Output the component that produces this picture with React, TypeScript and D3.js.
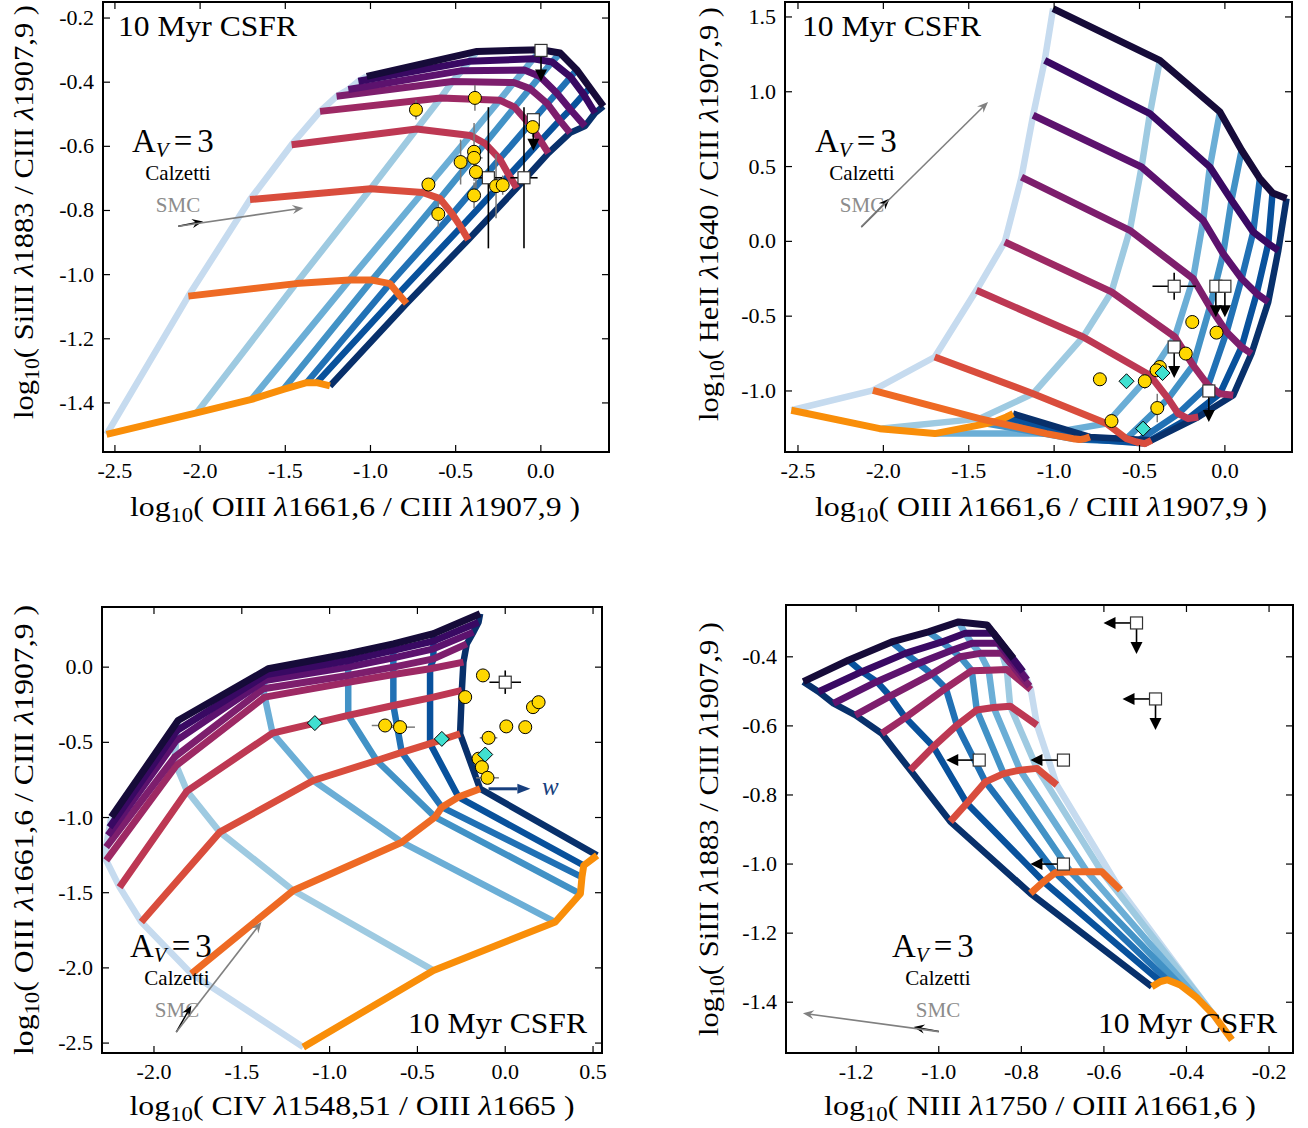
import React from "react";
import * as d3 from "d3";

type Pt = [number, number];

const FONT = "'Liberation Serif', 'Times New Roman', serif";

// ---------------- model grids ----------------
// rows: metallicity tracks (highest Z first -> lowest Z last)
// columns: ionisation-parameter tracks (lowest U first -> highest U last)
const gridSiIIIvsOIII: Pt[][] = [
  [[-1.022, -0.382], [-0.375, -0.304], [0.0, -0.299], [0.113, -0.309], [0.21, -0.361], [0.289, -0.418], [0.367, -0.475]],
  [[-1.071, -0.397], [-0.42, -0.335], [-0.044, -0.327], [0.066, -0.337], [0.175, -0.384], [0.251, -0.438], [0.318, -0.496]],
  [[-1.13, -0.423], [-0.463, -0.364], [-0.097, -0.362], [-0.005, -0.382], [0.093, -0.434], [0.173, -0.485], [0.259, -0.537]],
  [[-1.199, -0.444], [-0.52, -0.398], [-0.159, -0.401], [-0.064, -0.42], [0.038, -0.467], [0.111, -0.519], [0.171, -0.558]],
  [[-1.296, -0.491], [-0.588, -0.449], [-0.242, -0.456], [-0.154, -0.478], [-0.066, -0.531], [-0.001, -0.583], [0.044, -0.621]],
  [[-1.463, -0.595], [-0.729, -0.546], [-0.414, -0.566], [-0.328, -0.591], [-0.242, -0.639], [-0.187, -0.69], [-0.142, -0.73]],
  [[-1.707, -0.766], [-0.999, -0.732], [-0.694, -0.744], [-0.592, -0.763], [-0.52, -0.811], [-0.469, -0.852], [-0.426, -0.891]],
  [[-2.069, -1.067], [-1.437, -1.028], [-1.124, -1.017], [-0.991, -1.017], [-0.886, -1.028], [-0.837, -1.06], [-0.788, -1.09]],
  [[-2.549, -1.498], [-2.021, -1.431], [-1.698, -1.389], [-1.512, -1.358], [-1.375, -1.337], [-1.316, -1.337], [-1.238, -1.347]],
];

const gridHeIIvsOIII: Pt[][] = [
  [[-1.006, 1.556], [-0.381, 1.21], [-0.029, 0.865], [0.098, 0.609], [0.205, 0.419], [0.279, 0.324], [0.361, 0.286]],
  [[-1.055, 1.21], [-0.439, 0.854], [-0.088, 0.497], [0.039, 0.275], [0.166, 0.063], [0.254, -0.015], [0.313, -0.06]],
  [[-1.123, 0.843], [-0.488, 0.497], [-0.127, 0.141], [-0.01, -0.082], [0.098, -0.249], [0.186, -0.349], [0.254, -0.405]],
  [[-1.191, 0.43], [-0.557, 0.074], [-0.186, -0.249], [-0.088, -0.439], [0.01, -0.606], [0.098, -0.706], [0.156, -0.75]],
  [[-1.289, -0.004], [-0.664, -0.338], [-0.293, -0.639], [-0.186, -0.828], [-0.098, -0.962], [-0.029, -1.018], [0.049, -1.029]],
  [[-1.455, -0.327], [-0.83, -0.639], [-0.439, -0.895], [-0.332, -1.051], [-0.273, -1.152], [-0.215, -1.185], [-0.156, -1.174]],
  [[-1.699, -0.773], [-1.123, -1.018], [-0.693, -1.218], [-0.576, -1.319], [-0.518, -1.341], [-0.469, -1.352], [-0.43, -1.33]],
  [[-2.061, -0.996], [-1.436, -1.185], [-1.045, -1.285], [-0.889, -1.319], [-0.85, -1.325], [-0.82, -1.319], [-0.791, -1.307]],
  [[-2.539, -1.129], [-2.021, -1.252], [-1.699, -1.285], [-1.396, -1.218], [-1.338, -1.201], [-1.279, -1.174], [-1.24, -1.152]],
];

const gridOIIIvsCIV: Pt[][] = [
  [[-2.243, -0.997], [-1.863, -0.355], [-1.35, -0.011], [-0.894, 0.089], [-0.637, 0.155], [-0.409, 0.222], [-0.143, 0.355]],
  [[-2.253, -1.064], [-1.869, -0.421], [-1.359, -0.049], [-0.894, 0.044], [-0.637, 0.111], [-0.409, 0.173], [-0.152, 0.299]],
  [[-2.262, -1.119], [-1.873, -0.488], [-1.369, -0.089], [-0.894, 0.0], [-0.637, 0.062], [-0.409, 0.122], [-0.181, 0.233]],
  [[-2.272, -1.197], [-1.882, -0.598], [-1.378, -0.144], [-0.894, -0.055], [-0.637, 0.0], [-0.409, 0.055], [-0.219, 0.155]],
  [[-2.272, -1.285], [-1.873, -0.654], [-1.369, -0.199], [-0.894, -0.1], [-0.637, -0.049], [-0.428, -0.011], [-0.238, 0.033]],
  [[-2.196, -1.463], [-1.812, -0.824], [-1.325, -0.439], [-0.894, -0.321], [-0.637, -0.255], [-0.428, -0.204], [-0.247, -0.155]],
  [[-2.072, -1.695], [-1.625, -1.097], [-1.093, -0.754], [-0.732, -0.621], [-0.589, -0.567], [-0.428, -0.508], [-0.257, -0.443]],
  [[-1.787, -2.039], [-1.207, -1.485], [-0.589, -1.164], [-0.399, -0.997], [-0.361, -0.931], [-0.266, -0.864], [-0.143, -0.809]],
  [[-1.15, -2.527], [-0.409, -2.017], [0.285, -1.695], [0.428, -1.507], [0.437, -1.396], [0.447, -1.319], [0.523, -1.252]],
];

// columns of this grid run from highest U to lowest U
const gridSiIIIvsNIII: Pt[][] = [
  [[-1.328, -0.472], [-1.219, -0.41], [-1.114, -0.357], [-1.025, -0.328], [-0.952, -0.299], [-0.883, -0.308], [-0.819, -0.405]],
  [[-1.291, -0.501], [-1.186, -0.443], [-1.081, -0.39], [-0.992, -0.357], [-0.936, -0.332], [-0.867, -0.332], [-0.796, -0.443]],
  [[-1.255, -0.535], [-1.15, -0.472], [-1.049, -0.419], [-0.968, -0.381], [-0.92, -0.361], [-0.855, -0.361], [-0.786, -0.467]],
  [[-1.202, -0.569], [-1.118, -0.514], [-1.017, -0.45], [-0.948, -0.4], [-0.9, -0.39], [-0.847, -0.39], [-0.78, -0.485]],
  [[-1.138, -0.622], [-1.081, -0.576], [-0.983, -0.491], [-0.92, -0.44], [-0.879, -0.439], [-0.835, -0.437], [-0.777, -0.495]],
  [[-1.069, -0.728], [-1.013, -0.66], [-0.956, -0.598], [-0.908, -0.554], [-0.867, -0.547], [-0.827, -0.543], [-0.762, -0.598]],
  [[-0.972, -0.877], [-0.932, -0.824], [-0.887, -0.762], [-0.843, -0.738], [-0.803, -0.728], [-0.762, -0.723], [-0.714, -0.771]],
  [[-0.778, -1.085], [-0.746, -1.051], [-0.718, -1.025], [-0.681, -1.022], [-0.641, -1.022], [-0.605, -1.022], [-0.56, -1.075]],
  [[-0.484, -1.355], [-0.463, -1.34], [-0.447, -1.335], [-0.415, -1.35], [-0.374, -1.388], [-0.334, -1.437], [-0.29, -1.509]],
];

// ---------------- observations ----------------
// circles / diamonds: [x, y, xerr, yerr]
const circlesP1: number[][] = [
  [-0.733, -0.486, 0, 0.03], [-0.387, -0.449, 0, 0.04], [-0.471, -0.649, 0, 0.07],
  [-0.392, -0.617, 0, 0.09], [-0.392, -0.636, 0.05, 0], [-0.381, -0.68, 0, 0.05],
  [-0.66, -0.719, 0, 0], [-0.602, -0.811, 0, 0.04], [-0.392, -0.753, 0, 0.04],
  [-0.263, -0.724, 0, 0.1], [-0.224, -0.721, 0, 0.03], [-0.048, -0.54, 0, 0.03],
];
// squares: [x, y, xerr, yerr, upper limit in y, upper limit in x]
const squaresP1: number[][] = [
  [0.001, -0.301, 0, 0, 1, 0], [-0.308, -0.698, 0.08, 0.22, 0, 0],
  [-0.099, -0.698, 0.08, 0.22, 0, 0], [-0.044, -0.517, 0, 0, 1, 0],
];

const circlesP2: number[][] = [
  [-0.191, -0.539, 0, 0], [-0.049, -0.61, 0, 0], [-0.229, -0.75, 0, 0],
  [-0.381, -0.84, 0, 0], [-0.4, -0.862, 0, 0], [-0.732, -0.922, 0, 0.03],
  [-0.469, -0.935, 0, 0.05], [-0.396, -1.114, 0, 0.095], [-0.664, -1.201, 0, 0],
];
const diamondsP2: number[][] = [[-0.576, -0.935, 0, 0], [-0.365, -0.88, 0, 0], [-0.479, -1.252, 0, 0]];
const squaresP2: number[][] = [
  [-0.297, -0.3, 0.127, 0.09, 0, 0], [-0.053, -0.3, 0, 0, 1, 0], [0.0, -0.3, 0, 0, 1, 0],
  [-0.297, -0.706, 0, 0, 1, 0], [-0.094, -1.0, 0, 0, 1, 0],
];

const circlesP3: number[][] = [
  [-0.127, -0.055, 0, 0], [-0.228, -0.199, 0, 0], [-0.684, -0.388, 0.076, 0],
  [-0.599, -0.399, 0.085, 0], [-0.095, -0.47, 0.05, 0], [0.006, -0.394, 0, 0],
  [0.114, -0.399, 0, 0], [0.158, -0.266, 0, 0], [0.19, -0.233, 0, 0],
  [-0.152, -0.609, 0, 0], [-0.133, -0.665, 0, 0], [-0.101, -0.736, 0.065, 0],
];
const diamondsP3: number[][] = [[-1.084, -0.372, 0, 0], [-0.361, -0.477, 0, 0], [-0.114, -0.581, 0, 0]];
const squaresP3: number[][] = [[0.0, -0.1, 0.09, 0.078, 0, 0]];

const squaresP4: number[][] = [
  [-0.521, -0.302, 0, 0, 1, 1], [-0.475, -0.522, 0, 0, 1, 1],
  [-0.902, -0.699, 0, 0, 0, 1], [-0.698, -0.699, 0, 0, 0, 1], [-0.698, -1.0, 0, 0, 0, 1],
];

// dust vectors (A_V = 3): [x0, y0, xCalzetti, yCalzetti, xSMC, ySMC]
const dustP1 = [-2.128, -0.849, -1.983, -0.834, -1.394, -0.792];
const dustP2 = [-2.129, 0.096, -1.963, 0.286, -1.387, 0.932];
const dustP3 = [-1.873, -2.427, -1.787, -2.25, -1.388, -1.695];
const dustP4 = [-1.0, -1.485, -1.061, -1.472, -1.329, -1.432];

// "w" direction arrow in panel 3: [xStart, xEnd, y, xText]
const wArrowP3 = [-0.095, 0.143, -0.809, 0.209];

// ---------------- ticks ----------------
const ticksOIIIoverCIII = [-2.5, -2.0, -1.5, -1.0, -0.5, 0.0];
const ticksSiIIIoverCIII = [-1.4, -1.2, -1.0, -0.8, -0.6, -0.4, -0.2];
const ticksHeIIoverCIII = [-1.0, -0.5, 0.0, 0.5, 1.0, 1.5];
const ticksCIVoverOIII = [-2.0, -1.5, -1.0, -0.5, 0.0, 0.5];
const ticksOIIIoverCIIIy = [-2.5, -2.0, -1.5, -1.0, -0.5, 0.0];
const ticksNIIIoverOIII = [-1.2, -1.0, -0.8, -0.6, -0.4, -0.2];
const ticksSiIIIoverCIII4 = [-1.4, -1.2, -1.0, -0.8, -0.6, -0.4];

// axis label parts: [numerator ion, wavelength, denominator ion, wavelength]
const labOIII_CIII = ["OIII", "1661,6", "CIII", "1907,9"];
const labSiIII_CIII = ["SiIII", "1883", "CIII", "1907,9"];
const labHeII_CIII = ["HeII", "1640", "CIII", "1907,9"];
const labCIV_OIII = ["CIV", "1548,51", "OIII", "1665"];
const labNIII_OIII = ["NIII", "1750", "OIII", "1661,6"];

type PanelCfg = {
  id: string;
  left: number; top: number; right: number; bottom: number;
  xDomain: [number, number]; yDomain: [number, number];
  xTicks: number[]; yTicks: number[];
  grid: Pt[][]; uAscending: boolean;
  circles: number[][]; squares: number[][]; diamonds: number[][];
  dust: number[];
  xLab: string[]; yLab: string[];
  xLabX: number; xLabY: number; xLabLen: number;
  yLabX: number; yLabY: number; yLabLen: number;
  csfr: { x: number; y: number; anchor: "start" | "end" };
  av: { x: number; y: number; cx: number; cy: number };
  w?: number[];
};

const panels: PanelCfg[] = [
  {
    id: "p1", left: 103, top: 2, right: 609, bottom: 452,
    xDomain: [-2.57, 0.4], yDomain: [-1.553, -0.15],
    xTicks: ticksOIIIoverCIII, yTicks: ticksSiIIIoverCIII,
    grid: gridSiIIIvsOIII, uAscending: true,
    circles: circlesP1, squares: squaresP1, diamonds: [], dust: dustP1,
    xLab: labOIII_CIII, yLab: labSiIII_CIII,
    xLabX: 355, xLabY: 516, xLabLen: 450, yLabX: 33, yLabY: 212, yLabLen: 414,
    csfr: { x: 118, y: 36, anchor: "start" },
    av: { x: 132, y: 152, cx: 178, cy: 180 },
  },
  {
    id: "p2", left: 785, top: 2, right: 1292, bottom: 452,
    xDomain: [-2.576, 0.393], yDomain: [-1.408, 1.6],
    xTicks: ticksOIIIoverCIII, yTicks: ticksHeIIoverCIII,
    grid: gridHeIIvsOIII, uAscending: true,
    circles: circlesP2, squares: squaresP2, diamonds: diamondsP2, dust: dustP2,
    xLab: labOIII_CIII, yLab: labHeII_CIII,
    xLabX: 1041, xLabY: 516, xLabLen: 452, yLabX: 718, yLabY: 214, yLabLen: 414,
    csfr: { x: 802, y: 36, anchor: "start" },
    av: { x: 815, y: 152, cx: 862, cy: 180 },
  },
  {
    id: "p3", left: 102, top: 607, right: 602, bottom: 1053,
    xDomain: [-2.296, 0.551], yDomain: [-2.566, 0.4],
    xTicks: ticksCIVoverOIII, yTicks: ticksOIIIoverCIIIy,
    grid: gridOIIIvsCIV, uAscending: true,
    circles: circlesP3, squares: squaresP3, diamonds: diamondsP3, dust: dustP3,
    xLab: labCIV_OIII, yLab: labOIII_CIII,
    xLabX: 352, xLabY: 1115, xLabLen: 445, yLabX: 33, yLabY: 830, yLabLen: 450,
    csfr: { x: 587, y: 1033, anchor: "end" },
    av: { x: 130, y: 957, cx: 177, cy: 985 },
    w: wArrowP3,
  },
  {
    id: "p4", left: 786, top: 605, right: 1293, bottom: 1053,
    xDomain: [-1.37, -0.142], yDomain: [-1.547, -0.25],
    xTicks: ticksNIIIoverOIII, yTicks: ticksSiIIIoverCIII4,
    grid: gridSiIIIvsNIII, uAscending: false,
    circles: [], squares: squaresP4, diamonds: [], dust: dustP4,
    xLab: labNIII_OIII, yLab: labSiIII_CIII,
    xLabX: 1040, xLabY: 1115, xLabLen: 432, yLabX: 718, yLabY: 829, yLabLen: 414,
    csfr: { x: 1277, y: 1033, anchor: "end" },
    av: { x: 892, y: 957, cx: 938, cy: 985 },
  },
];

const fmt = (v: number) => (Math.abs(v) < 1e-9 ? "0.0" : v.toFixed(1));

function arrowHead(x1: number, y1: number, x2: number, y2: number, len: number, half: number, notch: number) {
  const dx = x2 - x1, dy = y2 - y1;
  const L = Math.hypot(dx, dy) || 1;
  const ux = dx / L, uy = dy / L, px = -uy, py = ux;
  const bx = x2 - ux * len, by = y2 - uy * len;
  const nx = x2 - ux * len * notch, ny = y2 - uy * len * notch;
  return {
    pts: `${x2},${y2} ${bx + px * half},${by + py * half} ${nx},${ny} ${bx - px * half},${by - py * half}`,
    nx, ny,
  };
}

function RatioLabel({ parts, fs }: { parts: string[]; fs: number }) {
  const sub = Math.round(fs * 0.7);
  const shift = Math.round(fs * 0.2);
  return (
    <>
      log
      <tspan fontSize={sub} dy={shift}>10</tspan>
      <tspan dy={-shift}>( {parts[0]} </tspan>
      <tspan fontStyle="italic">λ</tspan>
      <tspan>{parts[1]} / {parts[2]} </tspan>
      <tspan fontStyle="italic">λ</tspan>
      <tspan>{parts[3]} )</tspan>
    </>
  );
}

function Panel({ p }: { p: PanelCfg }) {
  const x = d3.scaleLinear().domain(p.xDomain).range([p.left, p.right]);
  const y = d3.scaleLinear().domain(p.yDomain).range([p.bottom, p.top]);
  const line = d3.line<Pt>().x((d) => x(d[0])).y((d) => y(d[1]));
  const nU = p.grid[0].length;
  const nZ = p.grid.length;
  const blues = d3.schemeBlues[9].slice(2);
  const zColor = (i: number) => d3.interpolateInferno(0.1 + (0.65 * i) / (nZ - 1));
  const clipId = `clip-${p.id}`;
  const W = p.right - p.left, H = p.bottom - p.top;

  const uOrder = d3.range(nU); // colour index k: lightest first
  const tick = 7;

  const [dx0, dy0, dxc, dyc, dxs, dys] = p.dust;
  const sx0 = x(dx0), sy0 = y(dy0);
  const calz = arrowHead(sx0, sy0, x(dxc), y(dyc), 11, 4.5, 0.65);
  const smc = arrowHead(sx0, sy0, x(dxs), y(dys), 11, 4.5, 0.65);

  return (
    <g>
      <defs>
        <clipPath id={clipId}>
          <rect x={p.left} y={p.top} width={W} height={H} />
        </clipPath>
      </defs>
      <g clipPath={`url(#${clipId})`}>
        {uOrder.map((k) => {
          const j = p.uAscending ? k : nU - 1 - k;
          const pts = p.grid.map((r) => r[j]);
          return (
            <path key={`u${k}`} d={line(pts) || ""} fill="none" stroke={blues[k]}
              strokeWidth={6.5} strokeLinejoin="round" strokeLinecap="butt" />
          );
        })}
        {d3.range(nZ - 1, -1, -1).map((i) => (
          <path key={`z${i}`} d={line(p.grid[i]) || ""} fill="none" stroke={zColor(i)}
            strokeWidth={7} strokeLinejoin="round" strokeLinecap="butt" />
        ))}

        {[...p.circles, ...p.diamonds].map((c, i) => (
          <g key={`ce${i}`} stroke="#7a7a7a" strokeWidth={1.5}>
            {c[2] > 0 && <line x1={x(c[0] - c[2])} x2={x(c[0] + c[2])} y1={y(c[1])} y2={y(c[1])} />}
            {c[3] > 0 && <line x1={x(c[0])} x2={x(c[0])} y1={y(c[1] - c[3])} y2={y(c[1] + c[3])} />}
          </g>
        ))}
        {p.squares.map((s, i) => {
          const cx = x(s[0]), cy = y(s[1]);
          return (
            <g key={`se${i}`} stroke="#000" strokeWidth={1.6}>
              {s[2] > 0 && <line x1={x(s[0] - s[2])} x2={x(s[0] + s[2])} y1={cy} y2={cy} />}
              {s[3] > 0 && <line x1={cx} x2={cx} y1={y(s[1] - s[3])} y2={y(s[1] + s[3])} />}
              {s[4] > 0 && (
                <>
                  <line x1={cx} x2={cx} y1={cy} y2={cy + 21} />
                  <polygon points={`${cx - 6},${cy + 19} ${cx + 6},${cy + 19} ${cx},${cy + 31}`} fill="#000" stroke="none" />
                </>
              )}
              {s[5] > 0 && (
                <>
                  <line x1={cx} x2={cx - 23} y1={cy} y2={cy} />
                  <polygon points={`${cx - 21},${cy - 6} ${cx - 21},${cy + 6} ${cx - 33},${cy}`} fill="#000" stroke="none" />
                </>
              )}
            </g>
          );
        })}
        {p.squares.map((s, i) => (
          <rect key={`s${i}`} x={x(s[0]) - 6} y={y(s[1]) - 6} width={12} height={12}
            fill="#fff" stroke="#333" strokeWidth={1.2} />
        ))}
        {p.circles.map((c, i) => (
          <circle key={`c${i}`} cx={x(c[0])} cy={y(c[1])} r={6.5} fill="#FFD700" stroke="#000" strokeWidth={1} />
        ))}
        {p.diamonds.map((c, i) => {
          const cx = x(c[0]), cy = y(c[1]);
          return (
            <polygon key={`d${i}`} points={`${cx},${cy - 7.5} ${cx + 7.5},${cy} ${cx},${cy + 7.5} ${cx - 7.5},${cy}`}
              fill="#40E0D0" stroke="#000" strokeWidth={1} />
          );
        })}
        {p.w && (() => {
          const [xa, xb, yw, xt] = p.w!;
          const h = arrowHead(x(xa), y(yw), x(xb), y(yw), 13, 5, 1);
          return (
            <g>
              <line x1={x(xa)} y1={y(yw)} x2={h.nx} y2={h.ny} stroke="#173f7e" strokeWidth={3} />
              <polygon points={h.pts} fill="#173f7e" />
              <text x={x(xt)} y={y(yw) + 6} fontFamily={FONT} fontSize={25} fontStyle="italic" fill="#173f7e">w</text>
            </g>
          );
        })()}
      </g>

      <rect x={p.left} y={p.top} width={W} height={H} fill="none" stroke="#000" strokeWidth={2} />
      <g stroke="#000" strokeWidth={1.2}>
        {p.xTicks.map((t) => (
          <g key={`xt${t}`}>
            <line x1={x(t)} x2={x(t)} y1={p.bottom} y2={p.bottom - tick} />
            <line x1={x(t)} x2={x(t)} y1={p.top} y2={p.top + tick} />
          </g>
        ))}
        {p.yTicks.map((t) => (
          <g key={`yt${t}`}>
            <line x1={p.left} x2={p.left + tick} y1={y(t)} y2={y(t)} />
            <line x1={p.right} x2={p.right - tick} y1={y(t)} y2={y(t)} />
          </g>
        ))}
      </g>
      <g fontFamily={FONT} fontSize={22} fill="#000">
        {p.xTicks.map((t) => (
          <text key={`xl${t}`} x={x(t)} y={p.bottom + 26} textAnchor="middle">{fmt(t)}</text>
        ))}
        {p.yTicks.map((t) => (
          <text key={`yl${t}`} x={p.left - 9} y={y(t) + 7} textAnchor="end">{fmt(t)}</text>
        ))}
      </g>
      <text x={p.xLabX} y={p.xLabY} textAnchor="middle" fontFamily={FONT} fontSize={28}
        textLength={p.xLabLen} lengthAdjust="spacingAndGlyphs">
        <RatioLabel parts={p.xLab} fs={28} />
      </text>
      <text transform={`translate(${p.yLabX},${p.yLabY}) rotate(-90)`} textAnchor="middle" fontFamily={FONT}
        fontSize={28} textLength={p.yLabLen} lengthAdjust="spacingAndGlyphs">
        <RatioLabel parts={p.yLab} fs={28} />
      </text>

      <text x={p.csfr.x} y={p.csfr.y} textAnchor={p.csfr.anchor} fontFamily={FONT} fontSize={29}
        textLength={179} lengthAdjust="spacingAndGlyphs">10 Myr CSFR</text>
      <text x={p.av.x} y={p.av.y} fontFamily={FONT} fontSize={33}>
        A<tspan fontStyle="italic" fontSize={21} dy={5}>V</tspan>
        <tspan dy={-5} dx={5}>=</tspan>
        <tspan dx={5}>3</tspan>
      </text>
      <text x={p.av.cx} y={p.av.cy} textAnchor="middle" fontFamily={FONT} fontSize={21}>Calzetti</text>
      <text x={p.av.cx} y={p.av.cy + 32} textAnchor="middle" fontFamily={FONT} fontSize={21} fill="#8c8c8c">SMC</text>

      <g>
        <line x1={sx0} y1={sy0} x2={calz.nx} y2={calz.ny} stroke="#000" strokeWidth={1.5} />
        <polygon points={calz.pts} fill="#000" />
        <line x1={sx0} y1={sy0} x2={smc.nx} y2={smc.ny} stroke="#808080" strokeWidth={1.6} />
        <polygon points={smc.pts} fill="#808080" />
      </g>
    </g>
  );
}

export default function App() {
  return (
    <svg width={1308} height={1128} viewBox="0 0 1308 1128" xmlns="http://www.w3.org/2000/svg"
      style={{ position: "absolute", left: 0, top: 0, display: "block" }}>
      <rect x={0} y={0} width={1308} height={1128} fill="#fff" />
      {panels.map((p) => (
        <Panel key={p.id} p={p} />
      ))}
    </svg>
  );
}
